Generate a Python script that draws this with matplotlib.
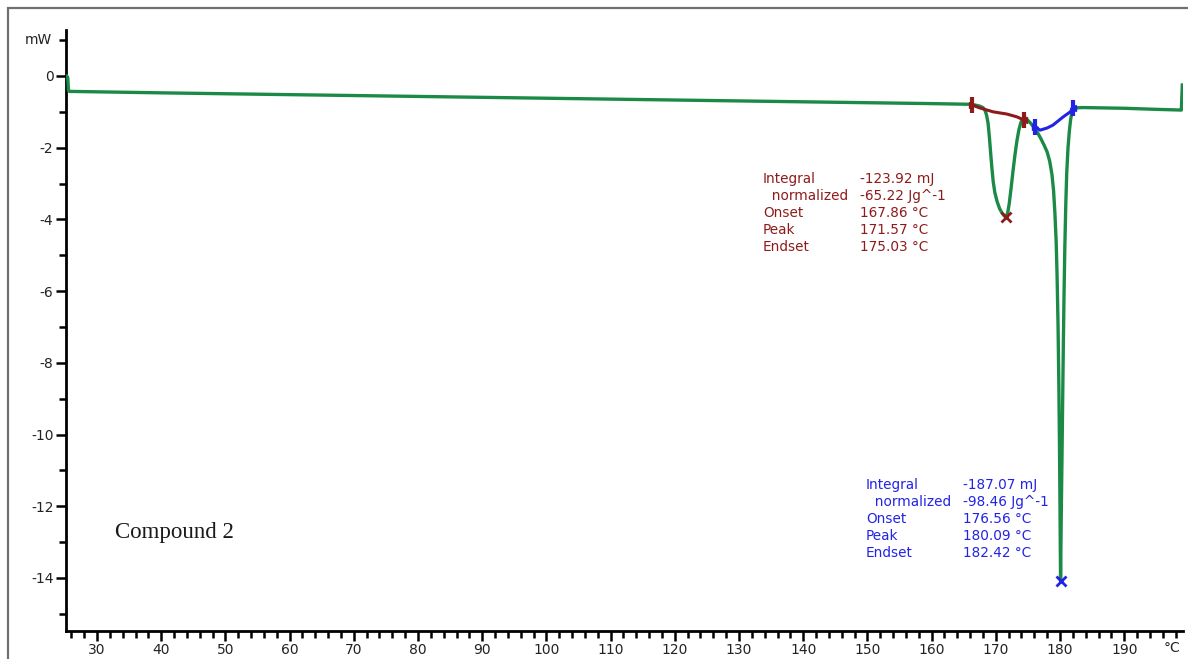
import matplotlib.pyplot as plt
from matplotlib.patches import Rectangle
from matplotlib.ticker import MultipleLocator

plt.rcParams['axes.unicode_minus'] = False

# DSC trace, compound 2 (temperature in degC, heat flow in mW)
temp = [25.3, 25.45, 25.55, 25.7, 26, 40, 60, 80, 100, 120, 140, 160, 166.3,
        167.5, 168.0, 168.3, 168.55, 168.8, 169.0, 169.2, 169.4, 169.6, 169.85,
        170.2, 170.6, 171.0, 171.3, 171.57, 171.85, 172.1, 172.4, 172.7, 173.0,
        173.3, 173.6, 173.9, 174.2, 174.55,
        175.0, 175.5, 176.0, 176.5, 177.0, 177.5, 178.0, 178.4, 178.75, 179.0,
        179.2, 179.4, 179.55, 179.7, 179.82, 179.92, 180.0, 180.05, 180.09,
        180.14, 180.2, 180.3, 180.4, 180.5, 180.62, 180.75, 180.9, 181.05,
        181.25, 181.45, 181.65, 181.85, 182.1, 182.5, 183.5,
        190, 195, 198.9, 199.0, 199.05]
heat = [0.0, -0.05, -0.40, -0.43, -0.43, -0.47, -0.52, -0.57, -0.62, -0.67, -0.72, -0.77, -0.79,
        -0.84, -0.88, -0.95, -1.08, -1.32, -1.70, -2.15, -2.58, -2.95, -3.25,
        -3.50, -3.70, -3.83, -3.90, -3.92, -3.82, -3.55, -3.10, -2.62, -2.18,
        -1.80, -1.50, -1.30, -1.19, -1.16,
        -1.24, -1.33, -1.45, -1.58, -1.74, -1.92, -2.12, -2.38, -2.75, -3.2,
        -3.8, -4.6, -5.6, -7.0, -8.6, -10.3, -12.0, -13.2, -14.08,
        -13.2, -12.2, -10.8, -9.3, -7.8, -6.2, -4.8, -3.6, -2.7,
        -2.0, -1.55, -1.22, -1.02, -0.92, -0.89, -0.88,
        -0.90, -0.93, -0.95, -0.5, -0.25]

# integration baselines
base1_t = [166.3, 167.5, 169.6, 171.7, 173.3, 174.4]
base1_h = [-0.81, -0.89, -1.00, -1.06, -1.14, -1.23]
base2_t = [176.1, 176.9, 178.0, 178.9, 180.5, 181.6, 182.0]
base2_h = [-1.42, -1.51, -1.45, -1.37, -1.14, -1.00, -0.89]

peak1 = (171.57, -3.92)
peak2 = (180.09, -14.08)

labels1 = ["Integral", "  normalized", "Onset", "Peak", "Endset"]
values1 = ["-123.92 mJ", "-65.22 Jg^-1", "167.86 \u00b0C", "171.57 \u00b0C", "175.03 \u00b0C"]
values2 = ["-187.07 mJ", "-98.46 Jg^-1", "176.56 \u00b0C", "180.09 \u00b0C", "182.42 \u00b0C"]

green = '#1b8a47'
red = '#8e1b1b'
blue = '#2323e6'

fig = plt.figure(figsize=(11.88, 6.59), dpi=100)
ax = fig.add_axes([66/1188, 1-631/659, 1117/1188, 601/659])

ax.plot(temp, heat, color=green, lw=2.4, solid_joinstyle='round', zorder=3)
ax.plot(base1_t, base1_h, color=red, lw=2.2, zorder=4)
ax.plot(base2_t, base2_h, color=blue, lw=2.2, zorder=4)

# integration limit marks
for (t, h, c, m) in [(base1_t[0], base1_h[0], red, '>'), (base1_t[-1], base1_h[-1], red, '<'),
                     (base2_t[0], base2_h[0], blue, '>'), (base2_t[-1], base2_h[-1], blue, '<')]:
    ax.plot(t, h, marker='|', ms=11, mew=3, color=c, zorder=5)
    ax.plot(t, h, marker=m, ms=5, color=c, zorder=5)

ax.plot(*peak1, marker='x', ms=7, mew=2, color=red, zorder=5)
ax.plot(*peak2, marker='x', ms=7, mew=2, color=blue, zorder=5)

# result blocks
dy = 0.474
for i in range(5):
    ax.text(133.74, -2.87 - i*dy, labels1[i], color=red, fontsize=9.8, va='center', ha='left')
    ax.text(148.85, -2.87 - i*dy, values1[i], color=red, fontsize=9.8, va='center', ha='left')
    ax.text(149.78, -11.41 - i*dy, labels1[i], color=blue, fontsize=9.8, va='center', ha='left')
    ax.text(164.89, -11.41 - i*dy, values2[i], color=blue, fontsize=9.8, va='center', ha='left')

ax.text(32.8, -12.74, "Compound 2", family='Liberation Serif', fontsize=16.5,
        color='#1a1a1a', va='center', ha='left')

ax.set_xlim(25.17, 199.16)
ax.set_ylim(-15.48, 1.283)

ax.xaxis.set_minor_locator(MultipleLocator(2))
ax.set_xticks(range(30, 200, 10))
ax.set_yticks(range(0, -15, -2))
ax.set_yticks(range(1, -16, -2), minor=True)

for s in ['top', 'right']:
    ax.spines[s].set_visible(False)
for s in ['left', 'bottom']:
    ax.spines[s].set_linewidth(2)
    ax.spines[s].set_color('black')

ax.tick_params(which='major', length=7, width=1.8, labelsize=10, colors='black',
               labelcolor='#222222', pad=2)
ax.tick_params(which='minor', length=5, width=1.8, colors='black')

ax.annotate("mW", xy=(0, 1), xycoords=ax.get_yaxis_transform(), xytext=(-10, 0),
            textcoords='offset points', ha='right', va='center', fontsize=10, color='#222222')
ax.annotate("\u00b0C", xy=(197.5, 0), xycoords=ax.get_xaxis_transform(), xytext=(0, -12.5),
            textcoords='offset points', ha='center', va='center', fontsize=10, color='#222222')

# outer frame
fig.patches.append(Rectangle((8/1188, -0.1), 1.2, 1 - 8/659 + 0.1, transform=fig.transFigure,
                             fill=False, edgecolor='#707070', lw=1.6))

fig.savefig('out.png', dpi=100)
